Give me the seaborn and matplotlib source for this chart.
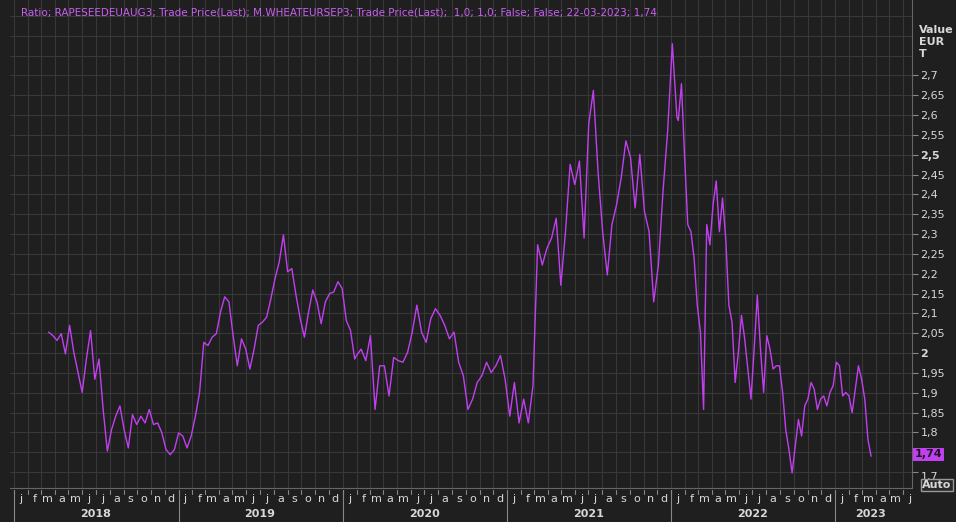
import numpy as np
import pandas as pd
import matplotlib
matplotlib.use("Agg")
import matplotlib.pyplot as plt
import matplotlib.dates as mdates
import matplotlib.transforms as mtransforms
import seaborn as sns

title_text = "Ratio; RAPESEEDEUAUG3; Trade Price(Last); M.WHEATEURSEP3; Trade Price(Last);  1,0; 1,0; False; False; 22-03-2023; 1,74"

# three traced segments of the ratio
seg1_start, seg1_end = "2018-03-18", "2020-01-28"
seg1 = [2.053, 2.044, 2.032, 2.049, 1.998, 2.070, 2.002, 1.951, 1.901, 1.985,
        2.057, 1.934, 1.985, 1.858, 1.753, 1.807, 1.841, 1.867, 1.807, 1.761,
        1.845, 1.820, 1.841, 1.824, 1.858, 1.820, 1.824, 1.799, 1.757, 1.744,
        1.757, 1.799, 1.791, 1.761, 1.791, 1.841, 1.901, 2.027, 2.019, 2.040,
        2.049, 2.104, 2.142, 2.129, 2.044, 1.968, 2.036, 2.010, 1.960, 2.010,
        2.070, 2.078, 2.091, 2.137, 2.188, 2.230, 2.298, 2.205, 2.213, 2.146,
        2.087, 2.040, 2.104, 2.159, 2.129, 2.074, 2.129, 2.150, 2.154, 2.180,
        2.163, 2.082, 2.057, 1.985]
seg2_start, seg2_end = "2020-02-01", "2022-01-14"
seg2 = [1.994, 2.010, 1.981, 2.044, 1.858, 1.968, 1.968, 1.892, 1.989, 1.981,
        1.977, 2.002, 2.053, 2.121, 2.053, 2.027, 2.087, 2.112, 2.095, 2.070,
        2.036, 2.053, 1.977, 1.943, 1.858, 1.884, 1.926, 1.943, 1.977, 1.951,
        1.968, 1.994, 1.934, 1.841, 1.926, 1.824, 1.884, 1.824, 1.918, 2.273,
        2.222, 2.264, 2.290, 2.340, 2.171, 2.306, 2.476, 2.425, 2.484, 2.290,
        2.577, 2.662, 2.459, 2.306, 2.197, 2.324, 2.374, 2.442, 2.535, 2.493,
        2.366, 2.501, 2.357, 2.306, 2.129, 2.222, 2.408, 2.560, 2.780, 2.594]
seg3_start, seg3_end = "2022-01-17", "2023-03-22"
seg3 = [2.586, 2.679, 2.493, 2.324, 2.306, 2.239, 2.121, 2.053, 1.858, 2.324,
        2.273, 2.374, 2.434, 2.306, 2.391, 2.290, 2.121, 2.078, 1.926, 2.002,
        2.095, 2.036, 1.960, 1.884, 2.010, 2.146, 2.010, 1.901, 2.044, 2.010,
        1.960, 1.968, 1.968, 1.901, 1.807, 1.757, 1.698, 1.765, 1.833, 1.791,
        1.867, 1.884, 1.926, 1.909, 1.858, 1.884, 1.892, 1.867, 1.901, 1.918,
        1.977, 1.968, 1.892, 1.901, 1.892, 1.850, 1.909, 1.968, 1.934, 1.884,
        1.782, 1.740]

month_letters = list("jfmamjjasond")
years = [2018, 2019, 2020, 2021, 2022, 2023]
y_ticks = [1.7, 1.75, 1.8, 1.85, 1.9, 1.95, 2.0, 2.05, 2.1, 2.15, 2.2, 2.25,
           2.3, 2.35, 2.4, 2.45, 2.5, 2.55, 2.6, 2.65, 2.7]
last_value = "1,74"

BG = "#1f1f1f"
GRID = "#383838"
LINE = "#c040f0"
TXT = "#d8d8d8"

dates = np.concatenate([
    pd.date_range(seg1_start, seg1_end, periods=len(seg1)).values,
    pd.date_range(seg2_start, seg2_end, periods=len(seg2)).values,
    pd.date_range(seg3_start, seg3_end, periods=len(seg3)).values,
])
df = pd.DataFrame({"date": pd.to_datetime(dates), "ratio": seg1 + seg2 + seg3})

sns.set_style("dark")
plt.rcParams["font.family"] = ["DejaVu Sans"]

fig = plt.figure(figsize=(9.56, 5.22), dpi=100, facecolor=BG)
ax = fig.add_axes([10 / 956, 34 / 522, 902 / 956, 488 / 522])
ax.set_facecolor(BG)

sns.lineplot(data=df, x="date", y="ratio", ax=ax, color=LINE, linewidth=1.0)

ax.set_xlim(pd.Timestamp("2017-12-22"), pd.Timestamp("2023-06-21"))
ax.set_ylim(1.66, 2.89)

# grid: monthly verticals, 0.05 horizontals
months = pd.date_range("2018-01-01", "2023-06-01", freq="MS")
for m in months:
    ax.axvline(m, color=GRID, lw=0.8, zorder=0)
for t in y_ticks + [2.75, 2.8, 2.85]:
    ax.axhline(t, color=GRID, lw=0.8, zorder=0)

ax.set_xlabel("")
ax.set_ylabel("")
ax.set_xticks([])
ax.yaxis.tick_right()
ax.set_yticks(y_ticks)
ax.set_yticklabels([("%g" % t).replace(".", ",") for t in y_ticks], fontsize=8, color=TXT)
for lab, t in zip(ax.get_yticklabels(), y_ticks):
    if t in (2.0, 2.5):
        lab.set_fontweight("bold")
    if t == 1.7:
        lab.set_va("top")
ax.tick_params(axis="y", length=4, color="#888888", pad=2)
for s in ax.spines.values():
    s.set_visible(False)
ax.spines["right"].set_visible(True)
ax.spines["right"].set_color("#666666")
ax.spines["bottom"].set_visible(True)
ax.spines["bottom"].set_color("#666666")

ax.text(0.012, 0.985, title_text, transform=ax.transAxes, fontsize=7.5,
        color="#c860f0", va="top", ha="left")
fig.text(919 / 956, 1 - 25 / 522, "Value\nEUR\nT", fontsize=8, color=TXT,
         fontweight="bold", va="top", ha="left", linespacing=1.25)
ax.text(1.003, 1.745, last_value, transform=mtransforms.blended_transform_factory(ax.transAxes, ax.transData),
        fontsize=8, color="#1a1a1a", fontweight="bold", va="center", ha="left",
        bbox=dict(boxstyle="square,pad=0.15", fc=LINE, ec="none"), zorder=5)
fig.text(922 / 956, 1 - 485 / 522, "Auto", fontsize=8, color=TXT, fontweight="bold",
         va="center", ha="left", bbox=dict(boxstyle="square,pad=0.12", fc="#2a2a2a", ec="#999999"))

# month letters and year labels under the axis
trans = mtransforms.blended_transform_factory(ax.transData, fig.transFigure)
for m in months:
    x = mdates.date2num(m)
    ax.plot([x, x], [1 - 490 / 522, 1 - 494 / 522], transform=trans, color="#888888",
            lw=0.8, clip_on=False)
    ax.text(mdates.date2num(m + pd.Timedelta(days=15)), 1 - 499 / 522,
            month_letters[m.month - 1], transform=trans, fontsize=8, color=TXT,
            ha="center", va="center")
for y in years:
    x0 = mdates.date2num(pd.Timestamp(f"{y}-01-01"))
    ax.plot([x0, x0], [1 - 490 / 522, 0], transform=trans, color="#888888",
            lw=0.8, clip_on=False)
    x1 = mdates.date2num(pd.Timestamp(f"{y}-07-01")) if y < 2023 else mdates.date2num(pd.Timestamp("2023-03-20"))
    ax.text(x1, 1 - 514 / 522, str(y), transform=trans, fontsize=8, color=TXT,
            fontweight="bold", ha="center", va="center")

fig.savefig("out.png", dpi=100, facecolor=BG)
